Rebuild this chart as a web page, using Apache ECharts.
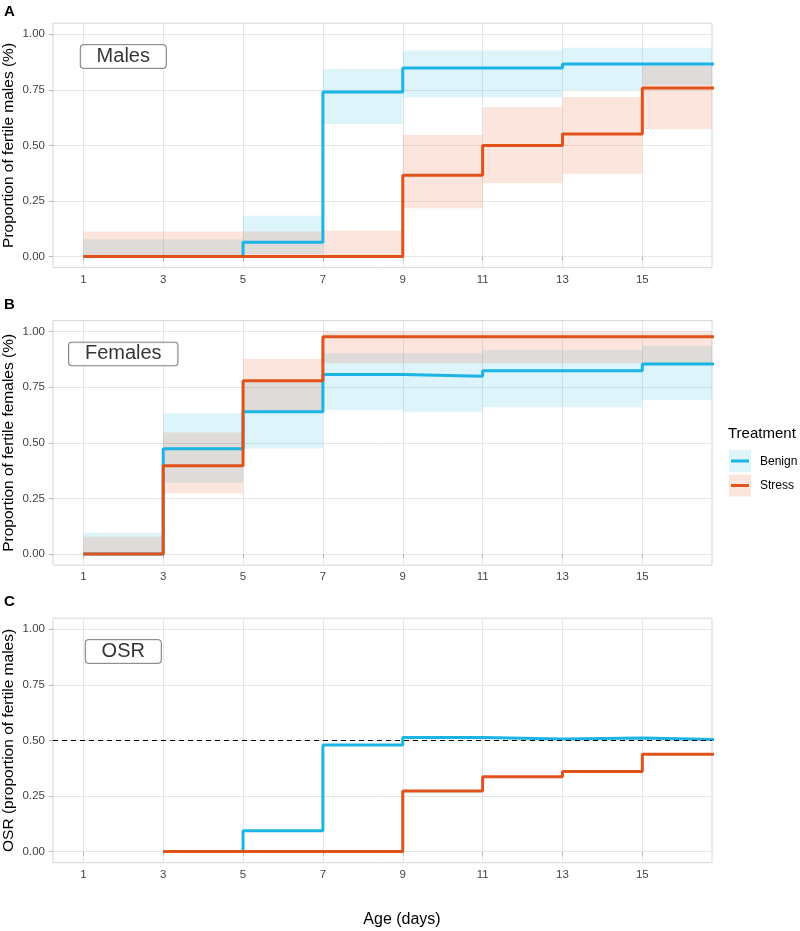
<!DOCTYPE html>
<html>
<head>
<meta charset="utf-8">
<script src="https://cdn.jsdelivr.net/npm/echarts@6/dist/echarts.min.js"></script>
<style>
html, body { margin: 0; padding: 0; background: #fff; }
#main { width: 800px; height: 931px; }
</style>
</head>
<body>
<div id="main"></div>
<script>
// ages (days) of each step, the last one only carries the line to the panel edge
var days = [1, 3, 5, 7, 9, 11, 13, 15, 17];
var tickDays = [1, 3, 5, 7, 9, 11, 13, 15];
var yTicks = [0, 0.25, 0.5, 0.75, 1];

// A - males
var malesBenign = [0, 0, 0.065, 0.74, 0.848, 0.848, 0.867, 0.867, 0.867];
var malesStress = [0, 0, 0, 0, 0.366, 0.5, 0.552, 0.759, 0.759];
var malesBenignLo = [0, 0, 0.01, 0.596, 0.717, 0.717, 0.75, 0.772];
var malesBenignHi = [0.078, 0.078, 0.184, 0.844, 0.927, 0.927, 0.939, 0.939];
var malesStressLo = [0, 0, 0, 0, 0.218, 0.33, 0.373, 0.573];
var malesStressHi = [0.113, 0.113, 0.113, 0.117, 0.547, 0.672, 0.718, 0.86];

// B - females
var femalesBenign = [0, 0.473, 0.64, 0.807, 0.8, 0.824, 0.824, 0.855, 0.855];
var femalesStress = [0, 0.397, 0.779, 0.977, 0.977, 0.977, 0.977, 0.977, 0.977];
var femalesBenignLo = [0, 0.321, 0.475, 0.648, 0.64, 0.66, 0.66, 0.693];
var femalesBenignHi = [0.096, 0.633, 0.78, 0.903, 0.903, 0.918, 0.918, 0.937];
var femalesStressLo = [0, 0.273, 0.64, 0.858, 0.858, 0.858, 0.858, 0.858];
var femalesStressHi = [0.078, 0.547, 0.877, 1, 1, 1, 1, 1];

// C - OSR (no value on day 1)
var osrBenign = [null, 0, 0.094, 0.48, 0.513, 0.506, 0.511, 0.503, 0.503];
var osrStress = [null, 0, 0, 0, 0.273, 0.337, 0.36, 0.438, 0.438];

var panelNames = ['Males', 'Females', 'OSR'];
var yTitles = ['Proportion of fertile males (%)', 'Proportion of fertile females (%)', 'OSR (proportion of fertile males)'];

var blue = '#1cb4e5';
var red = '#e1521a';
var blueFill = 'rgba(28,180,229,0.15)';
var redFill = 'rgba(225,82,26,0.15)';
var font = 'Liberation Sans, Arial, Helvetica, sans-serif';

var myChart = echarts.init(document.getElementById('main'));

function pairs(vals) {
    var out = [];
    for (var i = 0; i < days.length; i++) {
        if (vals[i] !== null) out.push([days[i], vals[i]]);
    }
    return out;
}

function bands(lo, hi) {
    var out = [];
    for (var i = 0; i < lo.length; i++) out.push([days[i], days[i + 1], lo[i], hi[i]]);
    return out;
}

function ribbon(idx, lo, hi, fill) {
    return {
        type: 'custom',
        xAxisIndex: idx,
        yAxisIndex: idx,
        clip: true,
        silent: true,
        z: 1,
        data: bands(lo, hi),
        renderItem: function (params, api) {
            var p0 = api.coord([api.value(0), api.value(3)]);
            var p1 = api.coord([api.value(1), api.value(2)]);
            return {
                type: 'rect',
                shape: { x: p0[0], y: p0[1], width: p1[0] - p0[0], height: p1[1] - p0[1] },
                style: { fill: fill }
            };
        }
    };
}

function stepLine(idx, vals, color) {
    return {
        type: 'line',
        xAxisIndex: idx,
        yAxisIndex: idx,
        step: 'end',
        showSymbol: false,
        silent: true,
        z: 3,
        lineStyle: { color: color, width: 3 },
        data: pairs(vals)
    };
}

function panelLabel(idx) {
    return {
        type: 'scatter',
        xAxisIndex: idx,
        yAxisIndex: idx,
        symbolSize: 1,
        silent: true,
        z: 5,
        itemStyle: { color: 'transparent' },
        label: {
            show: true,
            position: 'inside',
            formatter: panelNames[idx],
            fontFamily: font,
            fontSize: 20,
            color: '#000',
            backgroundColor: '#fff',
            borderColor: '#444',
            borderWidth: 0.8,
            borderRadius: 3,
            padding: [2, 16, 1, 16]
        },
        data: [[2, 0.9]]
    };
}

var grids = [], xAxes = [], yAxes = [];
var tops = [23.2, 320.6, 618.2];
for (var i = 0; i < 3; i++) {
    grids.push({ left: 53, width: 659, top: tops[i], height: 244.5, containLabel: false, outerBoundsMode: 'none',
        show: true, borderColor: '#d6d6d6', borderWidth: 1, backgroundColor: '#fff' });
    xAxes.push({
        type: 'value', gridIndex: i, min: 0.24, max: 16.745,
        axisLine: { show: false },
        axisTick: { show: true, length: 4, lineStyle: { color: '#b3b3b3' }, customValues: tickDays },
        axisLabel: { customValues: tickDays, color: '#444', fontSize: 11.5, fontFamily: font, margin: 6 },
        splitLine: { show: true, lineStyle: { color: '#e6e6e6', width: 1 } }
    });
    yAxes.push({
        type: 'value', gridIndex: i, min: -0.05, max: 1.05,
        name: yTitles[i], nameLocation: 'middle', nameGap: 36, nameMoveOverlap: false,
        nameTextStyle: { fontFamily: font, fontSize: 15.5, color: '#000' },
        axisLine: { show: false },
        axisTick: { show: true, length: 4, lineStyle: { color: '#b3b3b3' }, customValues: yTicks },
        axisLabel: { customValues: yTicks, color: '#444', fontSize: 11.5, fontFamily: font, margin: 8,
            formatter: function (v) { return v.toFixed(2); } },
        splitLine: { show: true, lineStyle: { color: '#e6e6e6', width: 1 } }
    });
}

var series = [
    ribbon(0, malesBenignLo, malesBenignHi, blueFill),
    ribbon(0, malesStressLo, malesStressHi, redFill),
    stepLine(0, malesBenign, blue),
    stepLine(0, malesStress, red),
    panelLabel(0),
    ribbon(1, femalesBenignLo, femalesBenignHi, blueFill),
    ribbon(1, femalesStressLo, femalesStressHi, redFill),
    stepLine(1, femalesBenign, blue),
    stepLine(1, femalesStress, red),
    panelLabel(1),
    stepLine(2, osrBenign, blue),
    stepLine(2, osrStress, red),
    panelLabel(2)
];
// dashed reference line at an even sex ratio
series[10].markLine = {
    silent: true, symbol: 'none', label: { show: false },
    lineStyle: { color: '#000', type: [5, 4], width: 1.2 },
    data: [{ yAxis: 0.5 }]
};

var option = {
    animation: false,
    backgroundColor: '#fff',
    grid: grids,
    xAxis: xAxes,
    yAxis: yAxes,
    series: series,
    graphic: [
        { type: 'text', left: 4, top: 4, style: { text: 'A', font: 'bold 15px ' + font, fill: '#000' } },
        { type: 'text', left: 4, top: 297, style: { text: 'B', font: 'bold 15px ' + font, fill: '#000' } },
        { type: 'text', left: 4, top: 594, style: { text: 'C', font: 'bold 15px ' + font, fill: '#000' } },
        { type: 'text', x: 402, y: 920, style: { text: 'Age (days)', font: '16px ' + font, fill: '#000', align: 'center', verticalAlign: 'middle' } },
        // legend
        { type: 'text', x: 728, y: 434, style: { text: 'Treatment', font: '15px ' + font, fill: '#000', verticalAlign: 'middle' } },
        { type: 'rect', shape: { x: 729, y: 450, width: 22, height: 22 }, style: { fill: blueFill } },
        { type: 'line', shape: { x1: 731, y1: 461, x2: 749, y2: 461 }, style: { stroke: blue, lineWidth: 3 } },
        { type: 'rect', shape: { x: 729, y: 474.5, width: 22, height: 22 }, style: { fill: redFill } },
        { type: 'line', shape: { x1: 731, y1: 485.5, x2: 749, y2: 485.5 }, style: { stroke: red, lineWidth: 3 } },
        { type: 'text', x: 760, y: 461.5, style: { text: 'Benign', font: '12px ' + font, fill: '#000', verticalAlign: 'middle' } },
        { type: 'text', x: 760, y: 486, style: { text: 'Stress', font: '12px ' + font, fill: '#000', verticalAlign: 'middle' } }
    ]
};
myChart.setOption(option);
window.onresize = myChart.resize;
</script>
</body>
</html>
